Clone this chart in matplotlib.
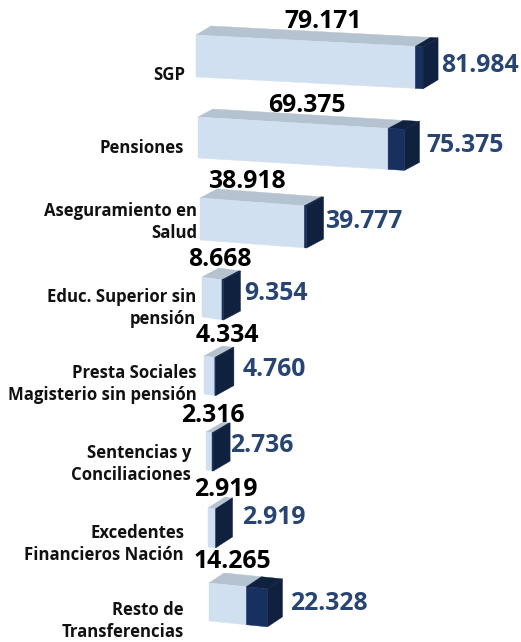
import matplotlib
matplotlib.use("Agg")
import matplotlib.pyplot as plt
from matplotlib.patches import Polygon

# valores
categorias = ["SGP", "Pensiones", "Aseguramiento en\nSalud", "Educ. Superior sin\npensión",
              "Presta Sociales\nMagisterio sin pensión", "Sentencias y\nConciliaciones",
              "Excedentes\nFinancieros Nación", "Resto de\nTransferencias"]
valor_negro = [79.171, 69.375, 38.918, 8.668, 4.334, 2.316, 2.919, 14.265]
valor_azul = [81.984, 75.375, 39.777, 9.354, 4.760, 2.736, 2.919, 22.328]

# posiciones en pixeles
escala = [2.77, 2.74, 2.68, 2.3, 2.5, 2.6, 2.6, 2.62]
x0 = [196, 198, 200, 202, 204, 206, 208, 209]
y0 = [35, 117, 198, 277, 356, 432, 508, 583]
alto = [42, 41, 42, 40, 38, 38, 39, 38]
pendiente = [0.052, 0.06, 0.075, 0.14, 0.13, 0.15, 0.12, 0.1]
prof_x = [15, 15, 17, 17, 18, 17, 17, 15]
prof_y = [9, 8, 9, 9, 10, 10, 11, 10]
lab_x = [185, 184, 197, 196, 197, 191, 184, 184]
lab_y = [75, 148, 222, 308, 384, 464, 544, 621]
neg_x = [323, 307, 247, 220, 227, 213, 226, 232]
neg_y = [22, 106, 181, 260, 335, 416, 490, 562]
azu_x = [441, 426, 325, 244, 243, 230, 242, 290]
azu_y = [65, 145, 222, 294, 369, 445, 517, 604]

CLARO = "#D0E0F1"
TECHO = "#B5C3D1"
OSCURO = "#17305F"
LADO = "#10203F"
AZUL = "#284473"

fig = plt.figure(figsize=(5.21, 6.42), dpi=100)
ax = fig.add_axes([0, 0, 1, 1])
ax.set_xlim(0, 521)
ax.set_ylim(642, 0)
ax.axis("off")


def poly(puntos, color, z=2):
    ax.add_patch(Polygon(puntos, closed=True, facecolor=color, edgecolor=color, linewidth=0.3, zorder=z))


for i in range(len(categorias)):
    x, y, h, m = x0[i], y0[i], alto[i], pendiente[i]
    dx, dy = prof_x[i], prof_y[i]
    x1 = x + valor_negro[i] * escala[i]
    x2 = x + valor_azul[i] * escala[i]
    y1 = y + (x1 - x) * m
    y2 = y + (x2 - x) * m

    # techo y caras
    poly([(x, y), (x + dx, y - dy), (x1 + dx, y1 - dy), (x1, y1)], TECHO)
    poly([(x1, y1), (x1 + dx, y1 - dy), (x2 + dx, y2 - dy), (x2, y2)], LADO)
    poly([(x, y), (x1, y1), (x1, y1 + h), (x, y + h)], CLARO)
    poly([(x1, y1), (x2, y2), (x2, y2 + h), (x1, y1 + h)], OSCURO)
    poly([(x2, y2), (x2 + dx, y2 - dy), (x2 + dx, y2 - dy + h), (x2, y2 + h)], LADO)

    ax.text(lab_x[i], lab_y[i], categorias[i], ha="right", va="center", ma="right",
            fontsize=12.1, fontweight="bold", family="Open Sans", color="#111111", linespacing=1.32)
    ax.text(neg_x[i], neg_y[i], f"{valor_negro[i]:.3f}", ha="center", va="center",
            fontsize=17.8, fontweight="bold", family="Open Sans", color="black", zorder=5)
    ax.text(azu_x[i], azu_y[i], f"{valor_azul[i]:.3f}", ha="left", va="center",
            fontsize=17.8, fontweight="bold", family="Open Sans", color=AZUL, zorder=5)

fig.savefig("out.png", dpi=100)
